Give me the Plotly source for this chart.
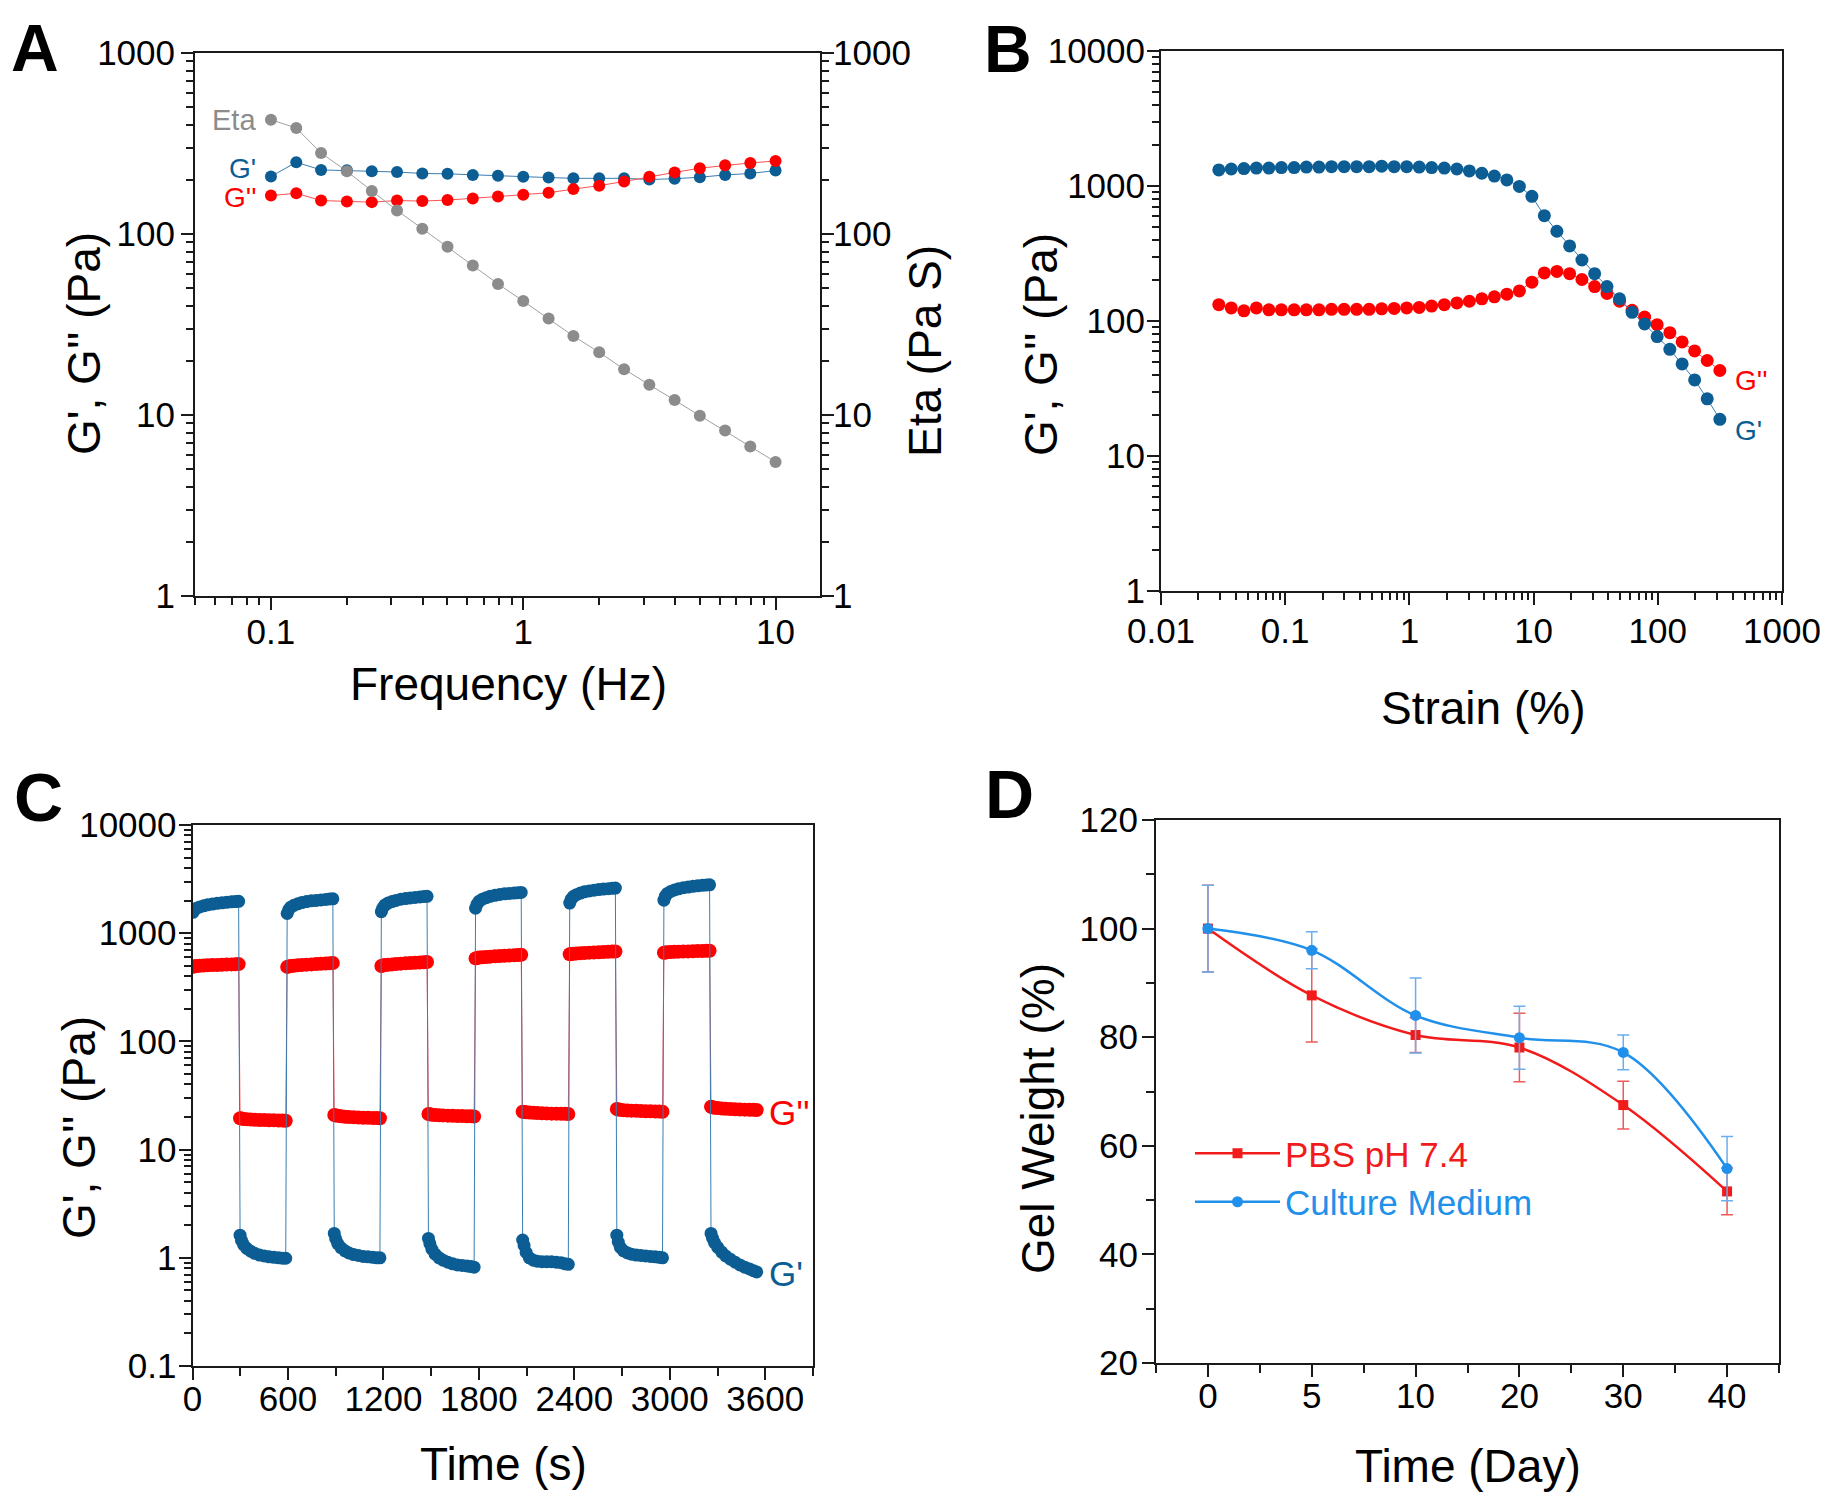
import math
import plotly.graph_objects as go

W, H = 1835, 1503          # browser window / reference size
OFF = 8                    # default page body margin
FW, FH = W - 2 * OFF, H - 2 * OFF
FONT = "Liberation Sans, Arial, Helvetica, sans-serif"
AX = "#1a1a1a"

# ---------------- Panel A : frequency sweep ----------------
freq_hz = [0.1, 0.126, 0.158, 0.2, 0.251, 0.316, 0.398, 0.501, 0.631, 0.794, 1.0,
           1.26, 1.58, 2.0, 2.51, 3.16, 3.98, 5.01, 6.31, 7.94, 10.0]
a_storage = [208, 249, 226, 225, 222, 220, 216, 215, 212, 210, 207,
             205, 203, 203, 203, 200, 202, 206, 212, 216, 224]
a_loss = [163, 168, 153, 151, 150, 153, 152, 154, 157, 161, 165,
          169, 177, 185, 195, 207, 219, 231, 240, 247, 253]
a_eta = [428, 385, 280, 222, 173, 135, 107, 85, 67, 53, 42.6,
         34.1, 27.3, 22.2, 17.9, 14.7, 12.1, 9.9, 8.2, 6.7, 5.5]

# ---------------- Panel B : strain sweep ----------------
strain_pct = [0.0292, 0.0368, 0.0465, 0.0586, 0.0739, 0.0932, 0.118, 0.148, 0.187, 0.236,
              0.298, 0.376, 0.474, 0.598, 0.754, 0.951, 1.20, 1.51, 1.91, 2.41,
              3.04, 3.83, 4.83, 6.09, 7.68, 9.69, 12.2, 15.4, 19.5, 24.5,
              31.0, 39.0, 49.2, 62.1, 78.3, 98.8, 125, 157, 198, 250, 316]
b_storage = [1315, 1336, 1347, 1358, 1358, 1369, 1369, 1380, 1380, 1391,
             1391, 1391, 1391, 1402, 1391, 1391, 1380, 1369, 1358, 1336,
             1294, 1243, 1184, 1109, 993, 838, 603, 462, 360, 283,
             224, 180, 146, 116, 95, 76.7, 61.7, 48.1, 36.6, 26.5, 18.7]
b_loss = [132, 125, 119, 125, 121, 121, 121, 121, 121, 122,
          122, 122, 122, 123, 124, 125, 126, 129, 132, 136,
          140, 146, 151, 158, 167, 194, 227, 233, 224, 203,
          180, 160, 140, 120, 107, 94, 82, 70, 60, 51, 43]

# ---------------- Panel C : step strain recovery ----------------
c_seg_start_s = [0, 296, 592, 888, 1184, 1480, 1776, 2072, 2368, 2664, 2960, 3256]
c_offset_s = [3, 12, 25, 45, 70, 95, 125, 155, 185, 215, 245, 270, 290]
c_storage = [
    [1560, 1640, 1700, 1750, 1790, 1830, 1860, 1890, 1910, 1930, 1950, 1960, 1970],
    [1.62, 1.45, 1.32, 1.22, 1.15, 1.10, 1.06, 1.04, 1.02, 1.01, 1.00, 0.99, 0.99],
    [1520, 1640, 1740, 1810, 1870, 1920, 1960, 1990, 2010, 2030, 2050, 2070, 2080],
    [1.68, 1.50, 1.35, 1.24, 1.16, 1.11, 1.07, 1.05, 1.03, 1.02, 1.01, 1.00, 1.00],
    [1580, 1710, 1820, 1900, 1960, 2010, 2060, 2090, 2120, 2140, 2160, 2180, 2190],
    [1.51, 1.35, 1.20, 1.08, 1.00, 0.95, 0.91, 0.88, 0.86, 0.85, 0.84, 0.83, 0.82],
    [1700, 1850, 1970, 2060, 2130, 2190, 2240, 2280, 2310, 2330, 2350, 2370, 2380],
    [1.46, 1.30, 1.12, 1.00, 0.95, 0.93, 0.92, 0.92, 0.92, 0.91, 0.90, 0.88, 0.87],
    [1900, 2060, 2180, 2270, 2350, 2410, 2460, 2500, 2530, 2560, 2580, 2600, 2610],
    [1.62, 1.40, 1.25, 1.16, 1.11, 1.08, 1.06, 1.05, 1.04, 1.03, 1.02, 1.01, 1.00],
    [2020, 2200, 2330, 2430, 2510, 2570, 2630, 2670, 2710, 2740, 2770, 2790, 2800],
    [1.68, 1.52, 1.38, 1.25, 1.13, 1.04, 0.97, 0.91, 0.86, 0.82, 0.79, 0.76, 0.74],
]
c_loss = [
    [490, 495, 498, 500, 503, 505, 507, 509, 511, 513, 515, 517, 518],
    [19.5, 19.4, 19.2, 19.1, 19.0, 18.9, 18.8, 18.8, 18.7, 18.7, 18.6, 18.6, 18.5],
    [488, 493, 497, 501, 505, 509, 512, 515, 519, 522, 525, 528, 530],
    [20.9, 20.7, 20.5, 20.3, 20.1, 20.0, 19.9, 19.8, 19.7, 19.7, 19.6, 19.6, 19.5],
    [498, 503, 507, 511, 515, 519, 523, 527, 530, 533, 536, 539, 541],
    [21.3, 21.2, 21.0, 20.9, 20.8, 20.7, 20.6, 20.5, 20.4, 20.4, 20.3, 20.3, 20.2],
    [585, 590, 595, 599, 603, 607, 611, 615, 619, 623, 626, 629, 632],
    [22.4, 22.3, 22.1, 22.0, 21.9, 21.8, 21.7, 21.6, 21.5, 21.5, 21.4, 21.4, 21.3],
    [638, 642, 646, 650, 654, 657, 661, 664, 667, 670, 673, 676, 678],
    [23.7, 23.5, 23.3, 23.1, 23.0, 22.9, 22.8, 22.7, 22.6, 22.6, 22.5, 22.5, 22.4],
    [660, 664, 667, 670, 673, 675, 677, 679, 681, 683, 685, 687, 688],
    [24.9, 24.6, 24.4, 24.2, 24.0, 23.8, 23.7, 23.6, 23.5, 23.4, 23.3, 23.3, 23.2],
]

# ---------------- Panel D : degradation ----------------
days = ["0", "5", "10", "20", "30", "40"]
pbs_weight = [100, 87.7, 80.4, 78.1, 67.5, 51.6]
pbs_err = [8.0, 8.6, 3.2, 6.3, 4.4, 4.3]
cm_weight = [100, 96.0, 84.0, 79.9, 77.2, 55.8]
cm_err = [8.0, 3.4, 6.9, 5.8, 3.2, 5.9]

# tick labels
a_xticks = [0.1, 1, 10]
a_xtick_text = ["0.1", "1", "10"]
a_yticks = [1, 10, 100, 1000]
a_ytick_text = ["1", "10", "100", "1000"]
b_xticks = [0.01, 0.1, 1, 10, 100, 1000]
b_xtick_text = ["0.01", "0.1", "1", "10", "100", "1000"]
b_yticks = [1, 10, 100, 1000, 10000]
b_ytick_text = ["1", "10", "100", "1000", "10000"]
c_xticks = [0, 600, 1200, 1800, 2400, 3000, 3600]
c_yticks = [0.1, 1, 10, 100, 1000, 10000]
c_ytick_text = ["0.1", "1", "10", "100", "1000", "10000"]
d_yticks = [20, 40, 60, 80, 100, 120]

# colours
BLUE = "#0b5d93"
BLUE_LINE = "#3a7db0"
RED = "#ff0000"
RED_LINE = "#ff5050"
GRAY = "#8c8c8c"
D_RED = "#f21b1b"
D_BLUE = "#2190ea"


def log_minor(lo_exp, hi_exp, lo=None, hi=None):
    vals = []
    for e in range(lo_exp, hi_exp):
        for m in range(2, 10):
            v = m * 10 ** e
            if (lo is None or v >= lo) and (hi is None or v <= hi):
                vals.append(v)
    return vals


def ax(**kw):
    base = dict(showline=True, linecolor=AX, linewidth=2, mirror=True,
                ticks="outside", ticklen=12, tickwidth=2, tickcolor=AX,
                showgrid=False, zeroline=False, ticklabelstandoff=0,
                automargin=False,
                tickfont=dict(size=35, color="black", family=FONT))
    base.update(kw)
    return base


def minor(vals):
    return dict(ticks="outside", ticklen=7, tickwidth=2, tickcolor=AX,
                showgrid=False, tickmode="array", tickvals=vals)


def px_x(x):
    return (x - OFF) / FW


def px_y(y):
    return 1 - (y - OFF) / FH


def dom_x(a, b):
    return [px_x(a), px_x(b)]


def dom_y(top, bottom):
    return [px_y(bottom), px_y(top)]


fig = go.Figure()

# Panel A traces
fig.add_trace(go.Scatter(x=freq_hz, y=a_eta, mode="lines+markers", xaxis="x", yaxis="y2",
                         line=dict(color="#a0a0a0", width=1),
                         marker=dict(color=GRAY, size=12), showlegend=False))
fig.add_trace(go.Scatter(x=freq_hz, y=a_storage, mode="lines+markers", xaxis="x", yaxis="y",
                         line=dict(color=BLUE_LINE, width=1),
                         marker=dict(color=BLUE, size=12), showlegend=False))
fig.add_trace(go.Scatter(x=freq_hz, y=a_loss, mode="lines+markers", xaxis="x", yaxis="y",
                         line=dict(color=RED_LINE, width=1),
                         marker=dict(color=RED, size=12), showlegend=False))

# Panel B traces
fig.add_trace(go.Scatter(x=strain_pct, y=b_loss, mode="lines+markers", xaxis="x2", yaxis="y3",
                         line=dict(color=RED_LINE, width=1),
                         marker=dict(color=RED, size=13), showlegend=False))
fig.add_trace(go.Scatter(x=strain_pct, y=b_storage, mode="lines+markers", xaxis="x2", yaxis="y3",
                         line=dict(color=BLUE_LINE, width=1),
                         marker=dict(color=BLUE, size=13), showlegend=False))

# Panel C traces
c_time = [s + o for s in c_seg_start_s for o in c_offset_s]
c_gp = [v for seg in c_storage for v in seg]
c_gpp = [v for seg in c_loss for v in seg]
fig.add_trace(go.Scatter(x=c_time, y=c_gpp, mode="lines+markers", xaxis="x3", yaxis="y4",
                         line=dict(color=RED_LINE, width=1),
                         marker=dict(color=RED, size=14), showlegend=False))
fig.add_trace(go.Scatter(x=c_time, y=c_gp, mode="lines+markers", xaxis="x3", yaxis="y4",
                         line=dict(color=BLUE_LINE, width=1),
                         marker=dict(color=BLUE, size=13), showlegend=False))

# Panel D traces
d_idx = list(range(len(days)))
fig.add_trace(go.Scatter(x=d_idx, y=pbs_weight, mode="lines+markers", xaxis="x4", yaxis="y5",
                         name="<span style='color:%s'>PBS pH 7.4</span>" % D_RED,
                         line=dict(color=D_RED, width=2.5, shape="spline", smoothing=1.0),
                         marker=dict(color=D_RED, size=10, symbol="square"),
                         error_y=dict(type="data", array=pbs_err, color="#f05a5a",
                                      thickness=1.5, width=6)))
fig.add_trace(go.Scatter(x=d_idx, y=cm_weight, mode="lines+markers", xaxis="x4", yaxis="y5",
                         name="<span style='color:%s'>Culture Medium</span>" % D_BLUE,
                         line=dict(color=D_BLUE, width=2.5, shape="spline", smoothing=1.0),
                         marker=dict(color=D_BLUE, size=11, symbol="circle"),
                         error_y=dict(type="data", array=cm_err, color="#6aaef0",
                                      thickness=1.5, width=6)))

layout = dict(
    width=FW, height=FH,
    margin=dict(l=0, r=0, t=0, b=0, autoexpand=False),
    paper_bgcolor="white", plot_bgcolor="white",
    font=dict(family=FONT, color="black"),
    # Panel A
    xaxis=ax(type="log", domain=dom_x(195, 820), range=[math.log10(0.05), math.log10(15)],
             anchor="y", tickmode="array", tickvals=a_xticks, ticktext=a_xtick_text,
             ticklabelstandoff=-8, minor=minor(log_minor(-2, 2, 0.05, 15))),
    yaxis=ax(type="log", domain=dom_y(53, 596), range=[0, 3], anchor="x",
             tickmode="array", tickvals=a_yticks, ticktext=a_ytick_text,
             ticklabelstandoff=-1, minor=minor(log_minor(0, 3))),
    yaxis2=ax(type="log", domain=dom_y(53, 596), range=[0, 3], anchor="x", overlaying="y",
              side="right", mirror=False, tickmode="array", tickvals=a_yticks,
              ticktext=a_ytick_text, ticklabelstandoff=-8, minor=minor(log_minor(0, 3))),
    # Panel B
    xaxis2=ax(type="log", domain=dom_x(1161, 1782), range=[-2, 3], anchor="y3",
              tickmode="array", tickvals=b_xticks, ticktext=b_xtick_text,
              ticklabelstandoff=-4, minor=minor(log_minor(-2, 3))),
    yaxis3=ax(type="log", domain=dom_y(51, 591), range=[0, 4], anchor="x2",
              tickmode="array", tickvals=b_yticks, ticktext=b_ytick_text,
              ticklabelstandoff=-5, minor=minor(log_minor(0, 4))),
    # Panel C
    xaxis3=ax(domain=dom_x(192.5, 813), range=[0, 3900], anchor="y4",
              tickmode="array", tickvals=c_xticks, ticklabelstandoff=-11,
              minor=dict(ticks="outside", ticklen=8, tickwidth=2, tickcolor=AX,
                         showgrid=False, dtick=300, tick0=0)),
    yaxis4=ax(type="log", domain=dom_y(825, 1366), range=[-1, 4], anchor="x3",
              tickmode="array", tickvals=c_yticks, ticktext=c_ytick_text,
              ticklabelstandoff=-5, minor=minor(log_minor(-1, 4))),
    # Panel D
    xaxis4=ax(domain=dom_x(1156, 1779), range=[-0.5, 5.5], anchor="y5",
              tickmode="array", tickvals=d_idx, ticktext=days, ticklabelstandoff=-11,
              minor=dict(ticks="outside", ticklen=8, tickwidth=2, tickcolor=AX,
                         showgrid=False, dtick=0.5, tick0=0.5)),
    yaxis5=ax(domain=dom_y(820, 1363), range=[20, 120], anchor="x4",
              tickmode="array", tickvals=d_yticks, ticklabelstandoff=-3,
              minor=dict(ticks="outside", ticklen=8, tickwidth=2, tickcolor=AX,
                         showgrid=False, dtick=10, tick0=0)),
    legend=dict(x=px_x(1190), y=px_y(1124), xanchor="left", yanchor="top",
                bgcolor="rgba(0,0,0,0)", font=dict(size=35, family=FONT),
                itemwidth=85, tracegroupgap=0),
)
fig.update_layout(**layout)

ann = []


def text_px(txt, x, y, size, angle=0, bold=False, color="black", yanchor="middle"):
    ann.append(dict(text=("<b>%s</b>" % txt) if bold else txt,
                    x=px_x(x), y=px_y(y), xref="paper", yref="paper",
                    xanchor="center", yanchor=yanchor, showarrow=False,
                    textangle=angle, font=dict(size=size, color=color, family=FONT)))


# panel letters (top row pinned to the top edge so the glyph box stays on the page)
text_px("A", 35, 9, 66, bold=True, yanchor="top")
text_px("B", 1008, 10, 66, bold=True, yanchor="top")
text_px("C", 38, 797, 68, bold=True)
text_px("D", 1009, 794, 68, bold=True)

# axis titles
text_px("G', G'' (Pa)", 84, 344, 46, angle=-90)
text_px("Eta (Pa S)", 925, 351, 46, angle=-90)
text_px("Frequency (Hz)", 508, 684, 46)
text_px("G', G'' (Pa)", 1041, 345, 46, angle=-90)
text_px("Strain (%)", 1483, 708, 46)
text_px("G', G'' (Pa)", 79, 1128, 46, angle=-90)
text_px("Time (s)", 503, 1464, 46)
text_px("Gel Weight (%)", 1038, 1119, 46, angle=-90)
text_px("Time (Day)", 1468, 1466, 46)

# series labels anchored to data points
ann.append(dict(text="Eta", x=math.log10(freq_hz[0]), y=math.log10(a_eta[0]), xref="x", yref="y2",
                xanchor="right", yanchor="middle", xshift=-13, yshift=0, showarrow=False,
                font=dict(size=29, color=GRAY, family=FONT)))
ann.append(dict(text="G'", x=math.log10(freq_hz[0]), y=math.log10(a_storage[0]), xref="x", yref="y",
                xanchor="right", yanchor="middle", xshift=-13, yshift=8, showarrow=False,
                font=dict(size=28, color=BLUE, family=FONT)))
ann.append(dict(text="G''", x=math.log10(freq_hz[0]), y=math.log10(a_loss[0]), xref="x", yref="y",
                xanchor="right", yanchor="middle", xshift=-13, yshift=-2, showarrow=False,
                font=dict(size=28, color=RED, family=FONT)))
ann.append(dict(text="G''", x=math.log10(strain_pct[-1]), y=math.log10(b_loss[-1]), xref="x2", yref="y3",
                xanchor="left", yanchor="middle", xshift=13, yshift=-10, showarrow=False,
                font=dict(size=28, color=RED, family=FONT)))
ann.append(dict(text="G'", x=math.log10(strain_pct[-1]), y=math.log10(b_storage[-1]), xref="x2", yref="y3",
                xanchor="left", yanchor="middle", xshift=13, yshift=-11, showarrow=False,
                font=dict(size=28, color=BLUE, family=FONT)))
ann.append(dict(text="G''", x=c_time[-1], y=math.log10(c_gpp[-1]), xref="x3", yref="y4",
                xanchor="left", yanchor="middle", xshift=10, yshift=-2, showarrow=False,
                font=dict(size=35, color=RED, family=FONT)))
ann.append(dict(text="G'", x=c_time[-1], y=math.log10(c_gp[-1]), xref="x3", yref="y4",
                xanchor="left", yanchor="middle", xshift=10, yshift=-2, showarrow=False,
                font=dict(size=35, color=BLUE, family=FONT)))

fig.update_layout(annotations=ann)
fig.write_html("out.html")
